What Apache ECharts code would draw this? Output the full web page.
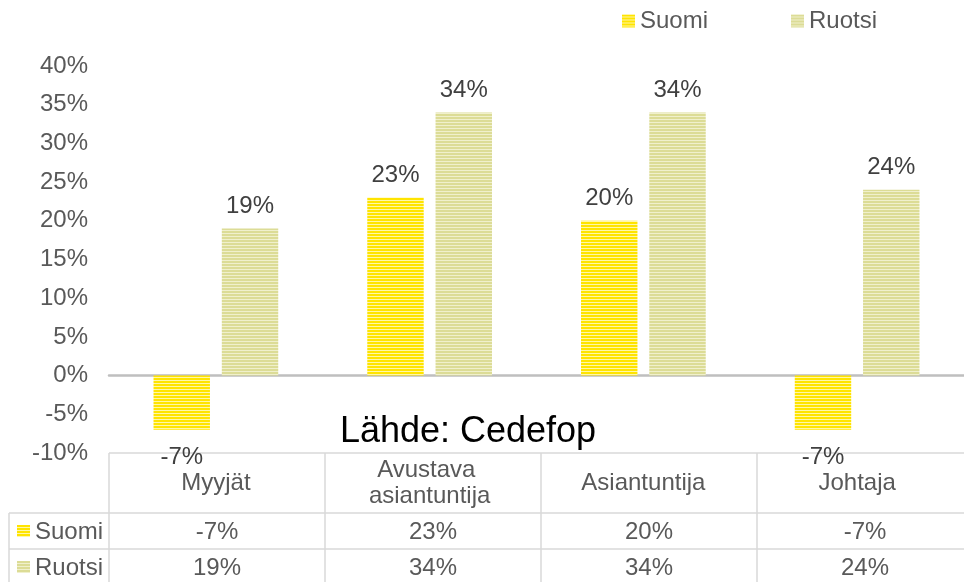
<!DOCTYPE html>
<html>
<head>
<meta charset="utf-8">
<script src="https://cdn.jsdelivr.net/npm/echarts@6/dist/echarts.min.js"></script>
<style>
  html, body { margin: 0; padding: 0; background: #fff; }
  #chart { width: 964px; height: 582px; }
</style>
</head>
<body>
<div id="chart"></div>
<script>
// data
const categories = ['Myyjät', 'Avustava asiantuntija', 'Asiantuntija', 'Johtaja'];
const seriesNames = ['Suomi', 'Ruotsi'];
const suomi = [-7, 23, 20, -7];
const ruotsi = [19, 34, 34, 24];
const sourceText = 'Lähde: Cedefop';

// striped fill like the excel pattern
function stripes(main, light) {
    const c = document.createElement('canvas');
    c.width = 4; c.height = 3;
    const ctx = c.getContext('2d');
    ctx.fillStyle = main; ctx.fillRect(0, 0, 4, 2);
    ctx.fillStyle = light; ctx.fillRect(0, 2, 4, 1);
    return { image: c, repeat: 'repeat' };
}
const colors = [stripes('#ffe400', '#fff7a8'), stripes('#dcdc96', '#f0f0cc')];

const FONT = 'Liberation Sans, Arial, sans-serif';
const gridLeft = 109, gridTop = 66, gridW = 864, gridH = 387;
const colW = gridW / categories.length;
const tableTop = gridTop + gridH;
const headerBottom = tableTop + 60;
const rowH = 36;
const lineColor = '#d9d9d9';

const chart = echarts.init(document.getElementById('chart'));

function labelOf(v) {
    return {
        value: v,
        label: { position: v < 0 ? 'bottom' : 'top', distance: v < 0 ? 16 : 10 }
    };
}

// table drawn from the same arrays
const graphics = [];
function hline(x1, x2, y) {
    graphics.push({ type: 'line', silent: true, shape: { x1: x1, y1: y, x2: x2, y2: y },
        style: { stroke: lineColor, lineWidth: 1.5 } });
}
function vline(x, y1, y2) {
    graphics.push({ type: 'line', silent: true, shape: { x1: x, y1: y1, x2: x, y2: y2 },
        style: { stroke: lineColor, lineWidth: 1.5 } });
}
hline(gridLeft, gridLeft + gridW, tableTop);
for (let r = 0; r <= 2; r++) hline(9, gridLeft + gridW, headerBottom + r * rowH);
for (let i = 0; i <= categories.length; i++) vline(gridLeft + i * colW, tableTop, headerBottom + 2 * rowH);
vline(9, headerBottom, headerBottom + 2 * rowH);

[suomi, ruotsi].forEach((vals, r) => {
    const cy = headerBottom + r * rowH + rowH / 2;
    graphics.push({ type: 'rect', silent: true, shape: { x: 17, y: cy - 6, width: 13, height: 12 },
        style: { fill: colors[r] } });
    graphics.push({ type: 'text', silent: true, x: 35, y: cy + 1,
        style: { text: seriesNames[r], font: '24px ' + FONT, fill: '#595959', verticalAlign: 'middle' } });
    vals.forEach((v, i) => {
        graphics.push({ type: 'text', silent: true, x: gridLeft + (i + 0.5) * colW, y: cy + 1,
            style: { text: v + '%', font: '24px ' + FONT, fill: '#595959', align: 'center', verticalAlign: 'middle' } });
    });
});
graphics.push({ type: 'text', silent: true, x: 468, y: 432,
    style: { text: sourceText, font: '36px ' + FONT, fill: '#000', align: 'center', verticalAlign: 'middle' } });

const option = {
    animation: false,
    textStyle: { fontFamily: FONT },
    legend: {
        data: seriesNames.map((n, i) => ({ name: n, itemStyle: { color: colors[i] } })),
        left: 622, top: 9,
        padding: 0,
        icon: 'rect', itemWidth: 13, itemHeight: 13, itemGap: 83,
        textStyle: { fontSize: 24, color: '#595959', fontFamily: FONT }
    },
    grid: { left: gridLeft, top: gridTop, width: gridW, height: gridH },
    xAxis: {
        type: 'category',
        data: categories,
        axisLine: { onZero: true, lineStyle: { color: '#bfbfbf', width: 2.5 } },
        axisTick: { show: false },
        axisLabel: {
            interval: 0, margin: 30, verticalAlign: 'middle', fontSize: 24, color: '#595959', lineHeight: 26,
            width: 180, overflow: 'break', fontFamily: FONT
        }
    },
    yAxis: {
        type: 'value', min: -10, max: 40, interval: 5,
        axisLine: { show: false }, axisTick: { show: false },
        splitLine: { show: false },
        axisLabel: { formatter: '{value}%', fontSize: 24, color: '#595959', margin: 21, fontFamily: FONT }
    },
    series: [suomi, ruotsi].map((vals, i) => ({
        name: seriesNames[i],
        type: 'bar',
        barWidth: '26.4%',
        barGap: '21%',
        itemStyle: { color: colors[i] },
        label: { show: true, formatter: '{c}%', fontSize: 24, color: '#404040', fontFamily: FONT },
        data: vals.map(labelOf)
    })),
    graphic: graphics
};
chart.setOption(option);
</script>
</body>
</html>
